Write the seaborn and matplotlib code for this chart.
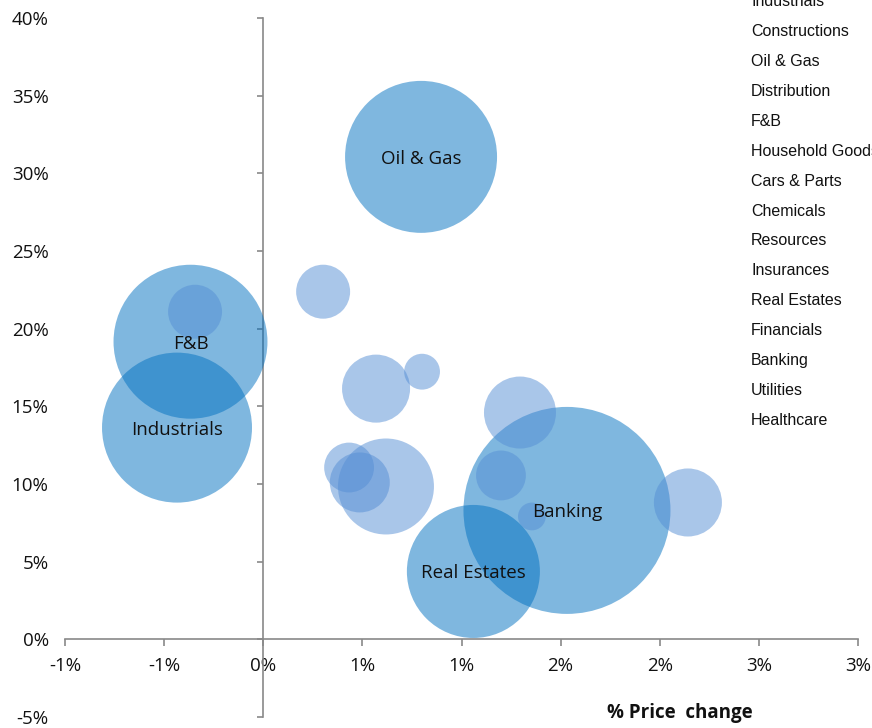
import matplotlib
matplotlib.use("Agg")
import matplotlib.pyplot as plt
import seaborn as sns
import pandas as pd

# ---------------- data ----------------
sectors = ["Industrials", "F&B", "Oil & Gas", "Banking", "Real Estates",
           "Constructions", "Distribution", "Household Goods", "Cars & Parts",
           "Chemicals", "Resources", "Insurances", "Financials", "Utilities",
           "Healthcare", "Other"]
price_change = [-0.435, -0.367, 0.796, 1.532, 1.060,
                0.302, 0.569, 0.801, 1.295, 0.433, 0.487, 0.619, 1.199,
                1.355, 2.142, -0.344]
return_pct = [13.63, 19.16, 31.06, 8.30, 4.37,
              22.38, 16.14, 17.23, 14.60, 11.06, 10.10, 9.84, 10.55,
              7.91, 8.81, 21.09]
bubble_size = [52.5, 55.3, 53.9, 100.0, 41.3,
               6.8, 10.8, 3.0, 12.1, 5.8, 8.4, 21.5, 5.8,
               1.8, 10.8, 6.8]
group = ["major"] * 5 + ["minor"] * 11
labelled = ["Industrials", "F&B", "Oil & Gas", "Banking", "Real Estates"]

legend_names = ["Industrials", "Constructions", "Oil & Gas", "Distribution", "F&B",
                "Household Goods", "Cars & Parts", "Chemicals", "Resources",
                "Insurances", "Real Estates", "Financials", "Banking",
                "Utilities", "Healthcare"]

x_ticks = [-1.0, -0.5, 0.0, 0.5, 1.0, 1.5, 2.0, 2.5, 3.0]
x_tick_labels = ["-1%", "-1%", "0%", "1%", "1%", "2%", "2%", "3%", "3%"]
y_ticks = [-5, 0, 5, 10, 15, 20, 25, 30, 35, 40]
y_tick_labels = ["-5%", "0%", "5%", "10%", "15%", "20%", "25%", "30%", "35%", "40%"]

df = pd.DataFrame({"sector": sectors, "x": price_change, "y": return_pct,
                   "size": bubble_size, "group": group})

# ---------------- style ----------------
sns.set_theme(style="white")
plt.rcParams["font.family"] = ["Open Sans", "DejaVu Sans"]

W, H = 872, 728
fig = plt.figure(figsize=(W / 100, H / 100), dpi=100)
ax = fig.add_axes([65 / W, 11 / H, 793 / W, 699 / H])

axis_grey = "#898989"
palette = {"major": "#0070C0", "minor": "#558ED5"}
smax = (207 * 0.72) ** 2

sns.scatterplot(data=df, x="x", y="y", size="size", hue="group",
                sizes=(0, smax), size_norm=(0, 100), palette=palette,
                alpha=0.5, linewidth=0, legend=False, ax=ax, zorder=3)

for _, row in df[df["sector"].isin(labelled)].iterrows():
    ax.text(row["x"], row["y"], row["sector"], ha="center", va="center_baseline",
            fontsize=13.5, color="#111111", zorder=5)

ax.set_xlim(-1, 3)
ax.set_ylim(-5, 40)
ax.set_xticks(x_ticks)
ax.set_xticklabels(x_tick_labels)
ax.set_yticks(y_ticks)
ax.set_yticklabels(y_tick_labels)
ax.set_xlabel("")
ax.set_ylabel("")

for s in ["top", "right"]:
    ax.spines[s].set_visible(False)
ax.spines["left"].set_position(("data", 0))
ax.spines["bottom"].set_position(("data", 0))
for s in ["left", "bottom"]:
    ax.spines[s].set_color(axis_grey)
    ax.spines[s].set_linewidth(1.2)
    ax.spines[s].set_zorder(2)

ax.tick_params(axis="y", direction="out", length=4.5, width=1.2, color=axis_grey,
               pad=150, labelsize=13.5, labelcolor="#111111", left=True)
ax.tick_params(axis="x", direction="out", length=5, width=1.2, color=axis_grey,
               pad=8, labelsize=13.5, labelcolor="#111111", bottom=True)

fig.text(680 / W, 1 - 718 / H, "% Price  change", ha="center", va="baseline",
         fontsize=13.5, fontweight="bold", color="#111111")

for i, name in enumerate(legend_names):
    fig.text(751 / W, 1 - (6 + 29.93 * i) / H, name, ha="left", va="baseline",
             fontsize=11.5, color="#111111", family=["Liberation Sans", "DejaVu Sans"])

fig.savefig("out.png", dpi=100)
